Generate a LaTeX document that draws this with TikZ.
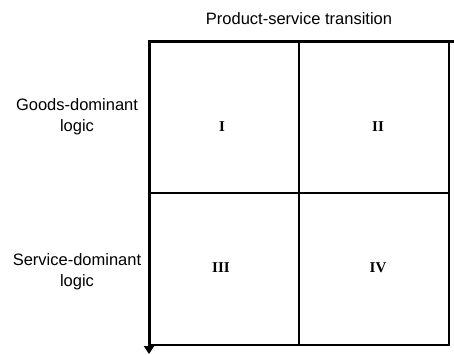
\documentclass[tikz,border=0pt]{standalone}
\usepackage{fontspec}
\setmainfont{Liberation Serif}
\setsansfont{Liberation Sans}
\usetikzlibrary{arrows.meta}

\begin{document}
\begin{tikzpicture}[x=1pt,y=-1pt,
    every node/.style={font=\sffamily\fontsize{16.5}{21}\selectfont},
    numeral/.style={font=\rmfamily\bfseries\fontsize{15}{17}\selectfont},
    axis/.style={line width=3pt},
    cell/.style={line width=1.4pt}]
  \useasboundingbox (0,0) rectangle (454,354);
  \coordinate (TL) at (149,41);
  \coordinate (TR) at (454,41);
  \coordinate (BL) at (149,354);
  \coordinate (C) at (299,193);
  \draw[cell] (149,345) -- (449,345) -- (449,41);
  \draw[cell] (299,41) -- (299,345);
  \draw[cell] (149,193) -- (449,193);
  \draw[axis] (147.5,41) -- (TR);
  \draw[axis,-{Triangle[length=8pt,width=10pt]}] (TL) -- (BL);
  \node (T) at (299,19) {Product-service transition};
  \node[align=center] (G) at (77,117) {Goods-dominant\\logic};
  \node[align=center] (S) at (77,272) {Service-dominant\\logic};
  \node[numeral] (I) at (222,127) {I};
  \node[numeral] (II) at (378,127) {II};
  \node[numeral] (III) at (221,268) {III};
  \node[numeral] (IV) at (378,268) {IV};
\end{tikzpicture}
\end{document}
